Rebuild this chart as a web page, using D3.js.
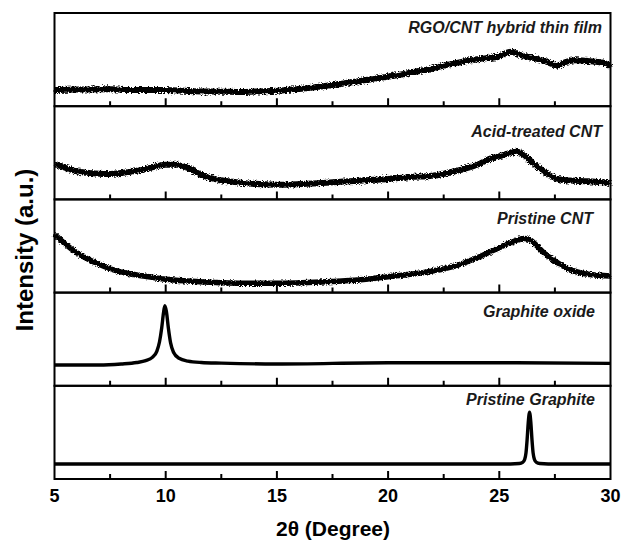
<!DOCTYPE html>
<html>
<head>
<meta charset="utf-8">
<script src="https://cdn.jsdelivr.net/npm/d3@7"></script>
<style>
  body { margin: 0; background: #fff; }
  #chart { position: relative; width: 622px; height: 540px; }
  #chart svg { position: absolute; left: 0; top: 0; display: block; font-family: "Liberation Sans", Arial, sans-serif; }
</style>
</head>
<body>
<div id="chart"></div>
<script>
// --- Data (2θ in degrees, intensity in a.u. as % of panel height) ---
const xTicks = [5, 10, 15, 20, 25, 30];
const xMinorTicks = [7.5, 12.5, 17.5, 22.5, 27.5];

const panelLabels = ["RGO/CNT hybrid thin film", "Acid-treated CNT", "Pristine CNT", "Graphite oxide", "Pristine Graphite"];

const rgoCnt = [
  [5, 17.4], [6, 17.9], [7.5, 18.1], [8.5, 17.4], [10, 17.4], [11, 16.3], [12.5, 15.6],
  [13.5, 15.2], [14, 15.8], [15, 16.6], [16, 18.5], [17.5, 22.7], [19, 28.1], [20, 31.7],
  [21, 35.9], [22, 40.5], [22.5, 43.5], [23, 46.0], [24, 50.3], [25, 53.6], [25.5, 58.5],
  [26, 54.5], [26.5, 51.8], [27, 48.8], [27.3, 46.0], [27.6, 43.5], [28, 47.5], [28.4, 49.3],
  [29.2, 48.0], [29.7, 46.5], [30, 42.4]
];

const acidCnt = [
  [5, 38.3], [6, 30.2], [7, 27.6], [7.5, 27.3], [8, 28.3], [9, 31.9], [10, 37.2], [10.5, 37.2],
  [11, 33.7], [11.5, 27.6], [12, 23.0], [12.5, 20.5], [13.5, 17.6], [15, 15.8], [17, 17.6],
  [19, 20.5], [20, 21.9], [21, 24.0], [22, 25.4], [23, 30.2], [24, 37.2], [24.5, 42.6],
  [25, 46.2], [25.8, 51.0], [26.1, 48.0], [26.5, 39.1], [27, 30.2], [27.5, 23.0], [28, 20.5],
  [29, 19.4], [30, 17.6]
];

const pristineCnt = [
  [5, 62.6], [5.5, 51.8], [6, 42.8], [7, 30.4], [7.5, 25.6], [8, 22.1], [9, 17.8], [10, 14.3],
  [11, 12.4], [12.5, 10.6], [14, 10.0], [15, 10.0], [17, 11.4], [19, 14.3], [20, 17.1],
  [21, 19.6], [22, 23.2], [23, 28.5], [24, 37.4], [24.5, 42.8], [25, 48.2], [25.5, 53.5],
  [26.1, 58.0], [26.4, 56.4], [26.7, 50.0], [27, 42.8], [27.5, 33.9], [28, 26.7], [28.5, 22.1],
  [29, 19.6], [30, 17.8]
];

const graphiteOxide = [
  [5, 22.3], [7, 22.3], [8, 23.4], [8.7, 25.0], [9.1, 27.0], [9.4, 30.5], [9.6, 37.0],
  [9.72, 47.0], [9.82, 62.0], [9.9, 78.0], [9.96, 86.0], [10.03, 80.0], [10.12, 62.0],
  [10.22, 46.0], [10.35, 36.0], [10.6, 29.5], [11.0, 26.5], [11.6, 25.0], [12.5, 24.3],
  [15, 23.4], [20, 24.8], [25, 24.8], [30, 24.1]
];

const pristineGraphite = [
  [5, 16.1], [25.5, 16.1], [25.9, 16.6], [26.05, 17.8], [26.14, 21.0], [26.2, 28.0],
  [26.25, 42.0], [26.3, 60.0], [26.36, 71.6], [26.42, 60.0], [26.47, 42.0], [26.52, 28.0],
  [26.58, 21.0], [26.67, 17.8], [26.82, 16.6], [27.2, 16.1], [30, 16.1]
];

const seriesList = [rgoCnt, acidCnt, pristineCnt, graphiteOxide, pristineGraphite];
const lineWidths = [6, 6, 5.5, 3.4, 3.4];
const roughness = [5, 5, 4, 1.2, 0];

// --- Layout ---
const W = 622, H = 540;
const margin = { left: 54.5, right: 610.5, top: 13, bottom: 479 };
const panelH = (margin.bottom - margin.top) / seriesList.length;

// traces live in their own svg, frames/ticks/text in an overlay svg
const svg = d3.create("svg")
  .attr("width", W)
  .attr("height", H);

const overlay = d3.create("svg")
  .attr("width", W)
  .attr("height", H);

const defs = svg.append("defs");
const x = d3.scaleLinear().domain([5, 30]).range([margin.left, margin.right]);

seriesList.forEach((data, i) => {
  const y0 = margin.top + i * panelH;
  const yb = y0 + panelH;
  const y = d3.scaleLinear().domain([0, 100]).range([yb, y0]);

  // noisy-trace look for the measured patterns
  if (roughness[i]) {
    const f = defs.append("filter")
      .attr("id", "rough" + i)
      .attr("filterUnits", "userSpaceOnUse")
      .attr("x", margin.left - 5).attr("y", y0)
      .attr("width", margin.right - margin.left + 10).attr("height", panelH);
    f.append("feTurbulence")
      .attr("type", "fractalNoise")
      .attr("baseFrequency", "0.6 1.1")
      .attr("numOctaves", 2)
      .attr("seed", i + 3)
      .attr("result", "noise");
    f.append("feDisplacementMap")
      .attr("in", "SourceGraphic")
      .attr("in2", "noise")
      .attr("scale", roughness[i])
      .attr("xChannelSelector", "R")
      .attr("yChannelSelector", "G");
  }

  const line = d3.line()
    .x(d => x(d[0]))
    .y(d => y(d[1]))
    .curve(d3.curveMonotoneX);

  const path = svg.append("path")
    .datum(data)
    .attr("d", line)
    .attr("fill", "none")
    .attr("stroke", "#000")
    .attr("stroke-width", lineWidths[i])
    .attr("stroke-linejoin", "round");
  if (roughness[i]) path.attr("filter", `url(#rough${i})`);

  // frame
  overlay.append("rect")
    .attr("x", margin.left).attr("y", y0)
    .attr("width", margin.right - margin.left).attr("height", panelH)
    .attr("fill", "none")
    .attr("stroke", "#000")
    .attr("stroke-width", 2);

  // inward ticks on panel bottom (major + minor)
  const tickPath = xTicks.slice(1, -1).map(t => `M${x(t)},${yb}V${yb - 8}`).join("")
    + xMinorTicks.map(t => `M${x(t)},${yb}V${yb - 5}`).join("");
  overlay.append("path")
    .attr("d", tickPath)
    .attr("fill", "none")
    .attr("stroke", "#000")
    .attr("stroke-width", 2);
});

// panel labels
const labelPos = [[602, 33], [602, 137], [593, 224], [595, 317], [595, 405]];
overlay.selectAll(".plabel")
  .data(panelLabels)
  .enter().append("text")
  .attr("x", (d, i) => labelPos[i][0])
  .attr("y", (d, i) => labelPos[i][1])
  .attr("text-anchor", "end")
  .attr("font-size", "16px")
  .attr("font-weight", "bold")
  .attr("font-style", "italic")
  .attr("fill", "#1a1a1a")
  .text(d => d);

// x tick labels
overlay.selectAll(".tlabel")
  .data(xTicks)
  .enter().append("text")
  .attr("x", d => x(d))
  .attr("y", 502)
  .attr("text-anchor", "middle")
  .attr("font-size", "18px")
  .attr("font-weight", "bold")
  .text(d => d);

// axis titles
overlay.append("text")
  .attr("x", 333)
  .attr("y", 536)
  .attr("text-anchor", "middle")
  .attr("font-size", "21px")
  .attr("font-weight", "bold")
  .text("2θ (Degree)");

overlay.append("text")
  .attr("transform", "rotate(-90)")
  .attr("x", -250)
  .attr("y", 33)
  .attr("text-anchor", "middle")
  .attr("font-size", "24px")
  .attr("font-weight", "bold")
  .text("Intensity (a.u.)");

const container = d3.select("#chart").node();
container.appendChild(svg.node());
container.appendChild(overlay.node());
</script>
</body>
</html>
